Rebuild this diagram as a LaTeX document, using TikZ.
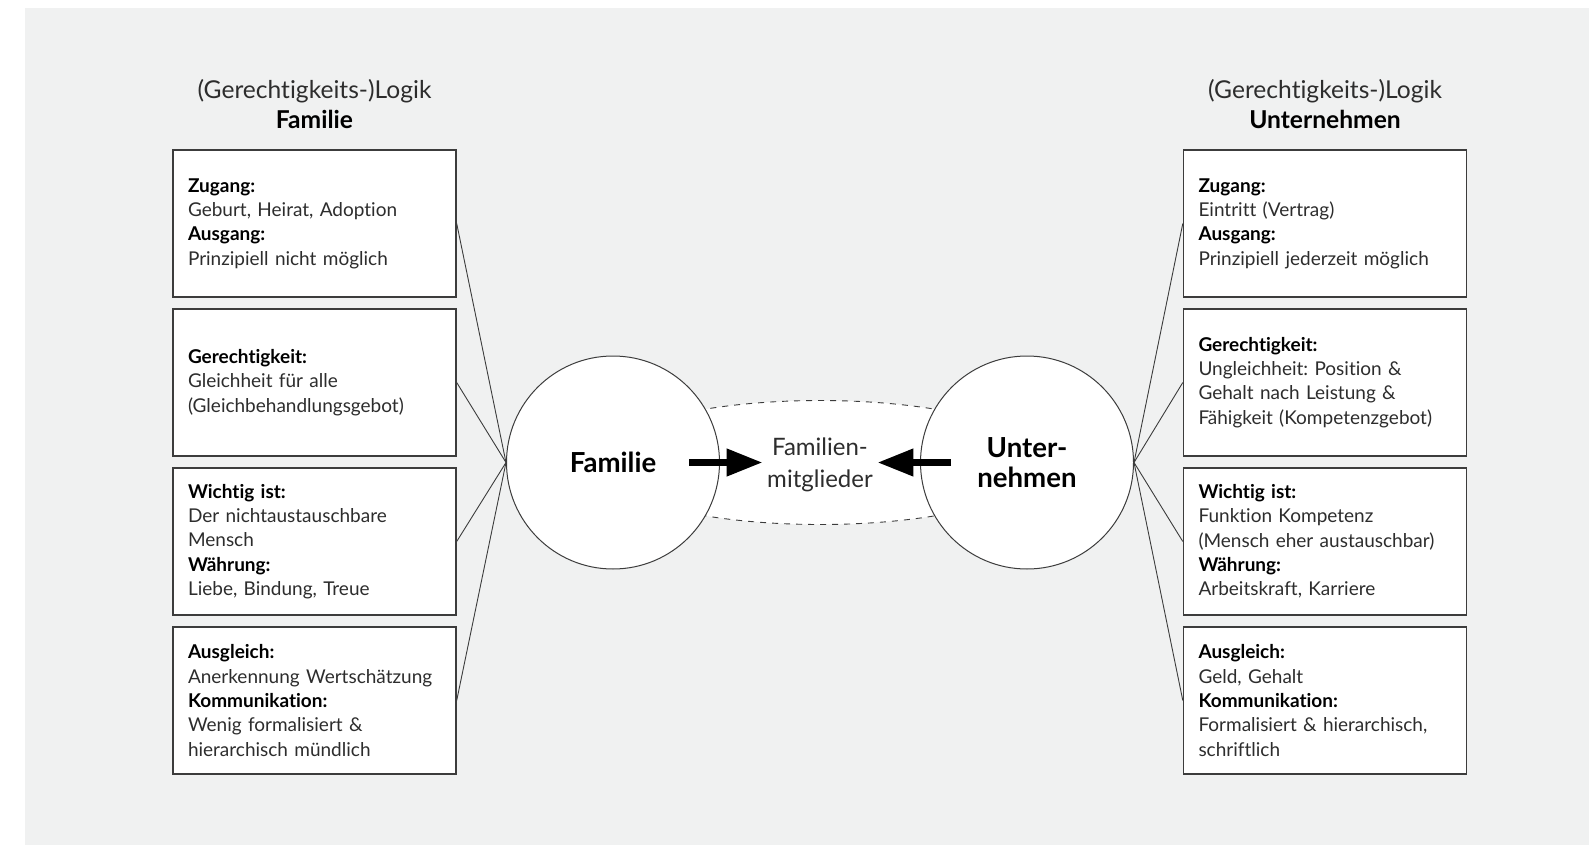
\documentclass[tikz,border=0pt]{standalone}
\usepackage{fontspec}
\setmainfont{Lato}[Ligatures=NoCommon]
\frenchspacing
\usetikzlibrary{arrows.meta,shapes.geometric}
\definecolor{bggray}{RGB}{240,241,241}
\definecolor{txtgray}{RGB}{45,45,45}
\definecolor{linegray}{RGB}{60,60,60}
\newcommand{\stichwort}[1]{\textcolor{black}{\textbf{#1}}}
\pgfmathsetmacro{\boxStep}{159}
\pgfmathsetmacro{\boxTop}{223.5}
\tikzset{
	infobox/.style= {
		shape=rectangle, draw=linegray, line width=0.7pt,
		fill=white, minimum width=141.5pt, minimum height=73.5pt,
		text width=126.5pt, inner sep=7.5pt, align=left,
		font=\fontsize{9.5}{12.15}\selectfont, text=txtgray
	},
	kreis/.style= {
		circle, draw=linegray, fill=white, line width=0.5pt,
		minimum size=106.5pt, inner sep=0, align=center,
		font=\bfseries\fontsize{13.8}{15.2}\selectfont
	},
	verbinder/.style={draw=linegray, line width=0.45pt},
	pfeil/.style={line width=3.6pt, -{Triangle[length=18pt,width=13pt]}},
	kopf/.style={align=center, font=\fontsize{12.3}{14.8}\selectfont, text=txtgray}
}

\begin{document}
\begin{tikzpicture}[x=0.5pt,y=-0.5pt]
\useasboundingbox (0,0) rectangle (1589,845);
\fill[bggray] (25,8) rectangle (1589,845);

% headers
\node[kopf] (kopfL) at (314.5,104) {(Gerechtigkeits-)Logik\\\stichwort{Familie}};
\node[kopf] (kopfR) at (1325,104) {(Gerechtigkeits-)Logik\\\stichwort{Unternehmen}};

% middle part
\node[draw=linegray, dashed, line width=0.45pt, ellipse, fill=white,
	minimum width=225pt, minimum height=62pt] (huelle) at (820,462.5) {};
\node[kreis] (famC) at (613,462.5) {Familie};
\node[kreis] (untC) at (1027,462.5) {Unter-\\nehmen};
\node[align=center, minimum width=57pt, inner sep=0,
	font=\fontsize{12}{15.8}\selectfont, text=txtgray] (mid) at (820,465) {Familien-\\mitglieder};
\draw[pfeil] ([xshift=38pt]famC.center) -- (famC.center -| mid.west);
\draw[pfeil] ([xshift=-38pt]untC.center) -- (untC.center -| mid.east);

% left boxes
\foreach \i/\txt in {
	0/{\stichwort{Zugang:}\\Geburt, Heirat, Adoption\\\stichwort{Ausgang:}\\Prinzipiell nicht möglich},
	1/{\stichwort{Gerechtigkeit:}\\Gleichheit für alle\\(Gleichbehandlungsgebot)},
	2/{\stichwort{Wichtig ist:}\\Der nichtaustauschbare\\Mensch\\\stichwort{Währung:}\\Liebe, Bindung, Treue},
	3/{\stichwort{Ausgleich:}\\Anerkennung Wertschätzung\\\stichwort{Kommunikation:}\\Wenig formalisiert \&\\hierarchisch mündlich}}{%
	\node[infobox] (fam\i) at (314.5, {\boxTop+\i*\boxStep}) {\txt};
	\draw[verbinder] (fam\i.east) -- (famC.west);
}

% right boxes
\foreach \i/\txt in {
	0/{\stichwort{Zugang:}\\Eintritt (Vertrag)\\\stichwort{Ausgang:}\\Prinzipiell jederzeit möglich},
	1/{\stichwort{Gerechtigkeit:}\\Ungleichheit: Position \&\\Gehalt nach Leistung \&\\Fähigkeit (Kompetenzgebot)},
	2/{\stichwort{Wichtig ist:}\\Funktion Kompetenz\\(Mensch eher austauschbar)\\\stichwort{Währung:}\\Arbeitskraft, Karriere},
	3/{\stichwort{Ausgleich:}\\Geld, Gehalt\\\stichwort{Kommunikation:}\\Formalisiert \& hierarchisch,\\schriftlich}}{%
	\node[infobox] (unt\i) at (1325, {\boxTop+\i*\boxStep}) {\txt};
	\draw[verbinder] (unt\i.west) -- (untC.east);
}
\end{tikzpicture}
\end{document}
